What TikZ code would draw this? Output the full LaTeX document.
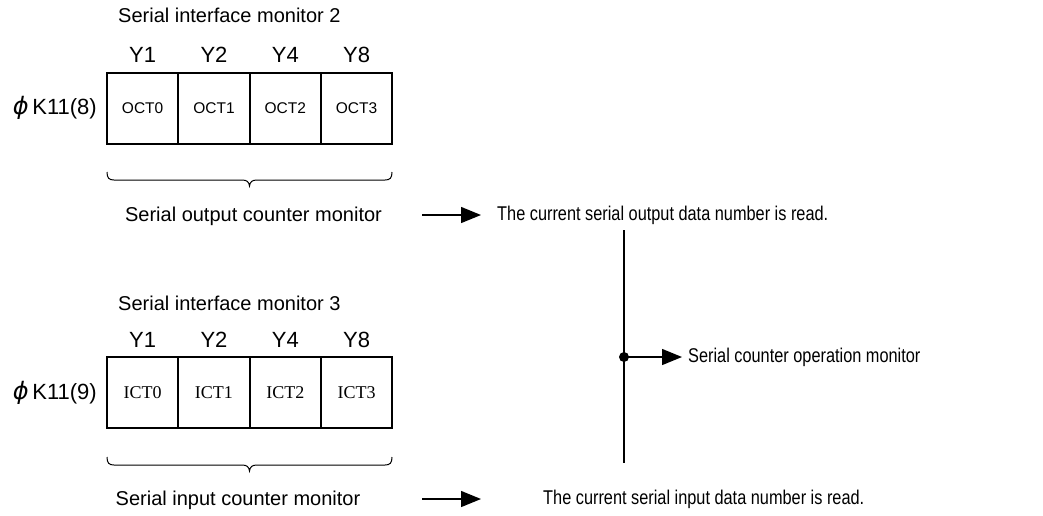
\documentclass[tikz,border=0pt]{standalone}
\usepackage{fontspec}
\setmainfont{Liberation Sans}
\newfontfamily\narrowfont[FakeStretch=0.82]{Liberation Sans}
\newfontfamily\cellserif{Liberation Serif}
\newfontfamily\symfont{DejaVu Sans}
\usetikzlibrary{arrows.meta}
\begin{document}
\begin{tikzpicture}[x=1pt,y=-1pt,
  lbl/.style={inner sep=0pt,font=\fontsize{20}{22}\selectfont},
  ylbl/.style={inner sep=0pt,font=\fontsize{22}{24}\selectfont},
  rlbl/.style={inner sep=0pt,anchor=west,font=\narrowfont\fontsize{19.9}{22}\selectfont},
  cell/.style={draw,line width=1.8pt,minimum width=71.3pt,minimum height=71pt,inner sep=0pt,outer sep=0pt},
  ocell/.style={cell,font=\fontsize{15.5}{17}\selectfont},
  icell/.style={cell,font=\cellserif\fontsize{18}{20}\selectfont},
  conn/.style={line width=1.4pt,-{Triangle[length=20pt,width=16pt]}},
  bracel/.style={line width=1pt}]
\useasboundingbox (0,0) rectangle (1043,515);
% ---------- upper block ----------
\node[lbl,anchor=west] (t2) at (118,15) {Serial interface monitor 2};
\foreach \n/\t [count=\i from 0] in {a/Y1,b/Y2,c/Y4,d/Y8}
  \node[ylbl] (yu\n) at ({142.7+71.3*\i},55) {\t};
\node[ocell] (o0) at (142.65,108.5) {OCT0};
\node[ocell,anchor=west] (o1) at (o0.east) {OCT1};
\node[ocell,anchor=west] (o2) at (o1.east) {OCT2};
\node[ocell,anchor=west] (o3) at (o2.east) {OCT3};
\node[ylbl,anchor=east] (ku) at (97,108) {{\symfont\itshape\fontsize{24}{26}\selectfont ϕ}\,K11(8)};
\draw[bracel] (107,172) .. controls (107,178) and (109,180) .. (114,180)
  -- (242,180) .. controls (247,180) and (249,182) .. (249.5,186)
  .. controls (250,182) and (252,180) .. (257,180)
  -- (385,180) .. controls (390,180) and (392,178) .. (392,172);
\node[lbl] (socm) at (253.5,216) {Serial output counter monitor};
\coordinate (au0) at (422,215);
\node[rlbl] (outr) at (497,215) {The current serial output data number is read.};
\draw[conn] (au0) -- ([xshift=-16pt]outr.west);
% ---------- vertical bus ----------
\coordinate (vt) at (624,230);
\coordinate (vb) at (624,463);
\coordinate (vd) at (624,357);
\draw[line width=1.4pt] (vt) -- (vb);
\fill (vd) circle (5pt);
\node[rlbl] (scom) at (688,357) {Serial counter operation monitor};
\draw[conn] (vd) -- ([xshift=-6pt]scom.west);
% ---------- lower block ----------
\node[lbl,anchor=west] (t3) at (118,303) {Serial interface monitor 3};
\foreach \n/\t [count=\i from 0] in {a/Y1,b/Y2,c/Y4,d/Y8}
  \node[ylbl] (yl\n) at ({142.7+71.3*\i},340) {\t};
\node[icell] (i0) at (142.65,392.5) {ICT0};
\node[icell,anchor=west] (i1) at (i0.east) {ICT1};
\node[icell,anchor=west] (i2) at (i1.east) {ICT2};
\node[icell,anchor=west] (i3) at (i2.east) {ICT3};
\node[ylbl,anchor=east] (kl) at (97,393) {{\symfont\itshape\fontsize{24}{26}\selectfont ϕ}\,K11(9)};
\draw[bracel] (107,457) .. controls (107,463) and (109,465) .. (114,465)
  -- (242,465) .. controls (247,465) and (249,467) .. (249.5,471)
  .. controls (250,467) and (252,465) .. (257,465)
  -- (385,465) .. controls (390,465) and (392,463) .. (392,457);
\node[lbl] (sicm) at (238,500) {Serial input counter monitor};
\coordinate (al0) at (422,499);
\coordinate (al1) at (481,499);
\node[rlbl] (inr) at (543,499) {The current serial input data number is read.};
\draw[conn] (al0) -- (al1);
\end{tikzpicture}
\end{document}
